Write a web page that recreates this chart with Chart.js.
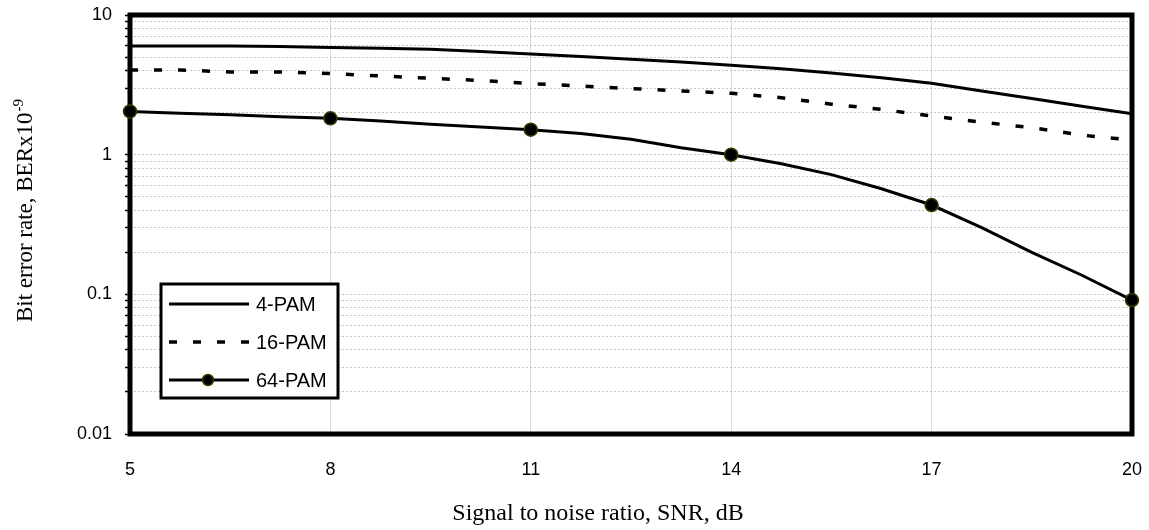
<!DOCTYPE html>
<html>
<head>
<meta charset="utf-8">
<script src="https://cdn.jsdelivr.net/npm/chart.js@4.4.0/dist/chart.umd.min.js"></script>
<style>
    html, body { margin: 0; padding: 0; background: #fff; }
    #wrap { width: 1149px; height: 530px; }
</style>
</head>
<body>
<div id="wrap"><canvas id="ber_chart"></canvas></div>
<script>

// SNR in dB, one sample every 0.75 dB
const snr = [5, 5.75, 6.5, 7.25, 8, 8.75, 9.5, 10.25, 11, 11.75, 12.5, 13.25, 14, 14.75, 15.5, 16.25, 17, 17.75, 18.5, 19.25, 20];

// bit error rate, x1e-9
const pam4 = [6.0, 6.0, 6.0, 5.95, 5.85, 5.77, 5.68, 5.47, 5.25, 5.04, 4.82, 4.6, 4.37, 4.12, 3.85, 3.55, 3.24, 2.86, 2.52, 2.22, 1.96];
const pam16 = [4.04, 4.04, 3.91, 3.91, 3.81, 3.66, 3.52, 3.40, 3.23, 3.10, 2.97, 2.86, 2.75, 2.56, 2.30, 2.11, 1.89, 1.71, 1.56, 1.38, 1.27];
const pam64 = [2.04, 1.98, 1.93, 1.87, 1.82, 1.74, 1.65, 1.58, 1.51, 1.42, 1.29, 1.12, 1.0, 0.86, 0.72, 0.57, 0.436, 0.30, 0.20, 0.137, 0.091];

const markerSnr = [5, 8, 11, 14, 17, 20];
const xTicks = [5, 8, 11, 14, 17, 20];
const yLabels = [0.01, 0.1, 1, 10];

const sansFont = "'Liberation Sans', Arial, sans-serif";
const serifFont = "'Liberation Serif', 'Times New Roman', serif";

function toPoints(values) {
    return values.map((v, i) => ({ x: snr[i], y: v }));
}

// thick black frame round the plot area
const frame_plugin = {
    id: 'frame',
    beforeDatasetsDraw(chart) {
        const a = chart.chartArea;
        const ctx = chart.ctx;
        ctx.save();
        ctx.strokeStyle = '#000';
        ctx.lineWidth = 5;
        ctx.strokeRect(a.left, a.top, a.right - a.left, a.bottom - a.top);
        ctx.restore();
    }
};

// axis titles (the y one needs a superscript)
const titles_plugin = {
    id: 'titles',
    afterDraw(chart) {
        const ctx = chart.ctx;
        ctx.save();
        ctx.fillStyle = '#000';
        ctx.textBaseline = 'alphabetic';

        ctx.font = '24px ' + serifFont;
        ctx.textAlign = 'center';
        ctx.fillText('Signal to noise ratio, SNR, dB', 598, 520);

        const main = 'Bit error rate, BERx10';
        const sup = '-9';
        ctx.font = '23px ' + serifFont;
        const w1 = ctx.measureText(main).width;
        ctx.font = '15px ' + serifFont;
        const w2 = ctx.measureText(sup).width;
        ctx.translate(32, 211);
        ctx.rotate(-Math.PI / 2);
        ctx.textAlign = 'left';
        const start = -(w1 + w2) / 2;
        ctx.font = '23px ' + serifFont;
        ctx.fillText(main, start, 0);
        ctx.font = '15px ' + serifFont;
        ctx.fillText(sup, start + w1 + 1, -9);
        ctx.restore();
    }
};

// legend box sitting inside the plot
const legend_plugin = {
    id: 'boxLegend',
    afterDraw(chart) {
        const ctx = chart.ctx;
        const a = chart.chartArea;
        const left = a.left + 31, top = 284, w = 177, h = 114;
        ctx.save();
        ctx.fillStyle = '#fff';
        ctx.fillRect(left, top, w, h);
        ctx.strokeStyle = '#000';
        ctx.lineWidth = 3;
        ctx.strokeRect(left, top, w, h);

        chart.data.datasets.forEach((ds, i) => {
            const y = top + 20 + i * 38;
            ctx.strokeStyle = ds.borderColor;
            ctx.lineWidth = ds.borderWidth;
            ctx.setLineDash(ds.borderDash || []);
            ctx.beginPath();
            ctx.moveTo(left + 8, y);
            ctx.lineTo(left + 88, y);
            ctx.stroke();
            ctx.setLineDash([]);
            if (ds.legendMarker) {
                ctx.beginPath();
                ctx.arc(left + 47, y, 5.5, 0, Math.PI * 2);
                ctx.fillStyle = ds.pointBackgroundColor;
                ctx.fill();
                ctx.lineWidth = 1.5;
                ctx.strokeStyle = ds.pointBorderColor;
                ctx.stroke();
            }
            ctx.fillStyle = '#000';
            ctx.font = '20px ' + sansFont;
            ctx.textAlign = 'left';
            ctx.textBaseline = 'middle';
            ctx.fillText(ds.label, left + 95, y + 1);
        });
        ctx.restore();
    }
};

function ber_chart() {

    const data = {
        datasets: [{
            label: '4-PAM',
            data: toPoints(pam4),
            borderColor: '#000',
            borderWidth: 3,
            pointRadius: 0,
            tension: 0
        }, {
            label: '16-PAM',
            data: toPoints(pam16),
            borderColor: '#000',
            borderWidth: 3.5,
            borderDash: [8, 16],
            borderCapStyle: 'butt',
            pointRadius: 0,
            tension: 0
        }, {
            label: '64-PAM',
            data: toPoints(pam64),
            borderColor: '#000',
            borderWidth: 3,
            pointRadius: ctx => markerSnr.includes(snr[ctx.dataIndex]) ? 6.5 : 0,
            pointBackgroundColor: '#000',
            pointBorderColor: '#3a3a00',
            pointBorderWidth: 1.5,
            legendMarker: true,
            tension: 0
        }]
    };

    const config = {
        type: 'line',
        data: data,
        options: {
            responsive: true,
            maintainAspectRatio: false,
            animation: false,
            clip: false,
            layout: { padding: { top: 15, right: 17, left: 0, bottom: 0 } },
            plugins: {
                legend: { display: false },
                tooltip: { enabled: false }
            },
            scales: {
                x: {
                    type: 'linear',
                    min: 5,
                    max: 20,
                    afterBuildTicks: s => { s.ticks = xTicks.map(v => ({ value: v })); },
                    afterFit: s => {
                        s.height = 96;
                        s.paddingLeft = 0;
                        s.paddingRight = 0;
                    },
                    ticks: {
                        autoSkip: false,
                        maxRotation: 0,
                        padding: 25,
                        color: '#000',
                        font: { family: sansFont, size: 18 }
                    },
                    grid: { color: '#dcdcdc', lineWidth: 1, drawTicks: false },
                    border: { display: false }
                },
                y: {
                    type: 'logarithmic',
                    min: 0.01,
                    max: 10,
                    afterBuildTicks: s => {
                        const t = [];
                        for (let d = 0; d < yLabels.length - 1; d++) {
                            for (let m = 1; m < 10; m++) t.push({ value: m * yLabels[d] });
                        }
                        t.push({ value: yLabels[yLabels.length - 1] });
                        s.ticks = t;
                    },
                    afterFit: s => {
                        s.width = 130;
                        s.paddingTop = 0;
                        s.paddingBottom = 0;
                    },
                    ticks: {
                        autoSkip: false,
                        padding: 13,
                        color: '#000',
                        font: { family: sansFont, size: 18 },
                        callback: v => yLabels.includes(v) ? String(v) : ''
                    },
                    grid: { color: '#c4c4c4', lineWidth: 1, tickLength: 5, tickColor: '#000', tickWidth: 1.5 },
                    border: { display: false, dash: [2, 2] }
                }
            }
        },
        plugins: [frame_plugin, titles_plugin, legend_plugin]
    };

    const myChart = new Chart(document.getElementById('ber_chart'), config);
}

ber_chart();
</script>
</body>
</html>
